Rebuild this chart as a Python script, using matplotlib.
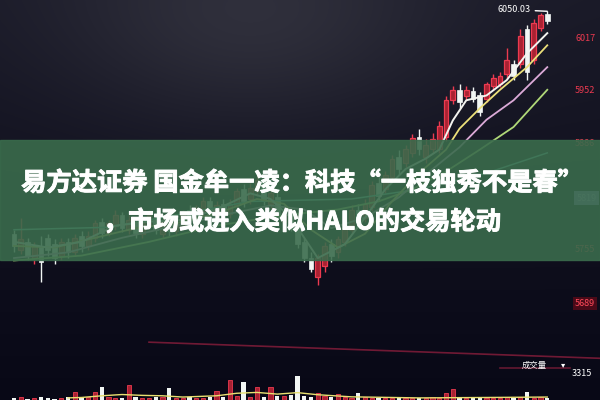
import numpy as np
import matplotlib.pyplot as plt
import matplotlib.patheffects as pe
from matplotlib.patches import Rectangle

plt.rcParams['font.family'] = ['Noto Sans CJK SC', 'DejaVu Sans']

# --- K-line data, left to right ---
opens = [5775, 5755, 5765, 5745, 5760, 5770, 5762, 5748, 5765, 5752,
         5772, 5760, 5770, 5790, 5776, 5785, 5798, 5780, 5790, 5775,
         5785, 5795, 5775, 5790, 5778, 5785, 5805, 5795, 5802, 5815,
         5798, 5812, 5800, 5810, 5830, 5818, 5828, 5840, 5812, 5820,
         5790, 5800, 5785, 5765, 5745, 5722, 5735, 5762, 5752, 5765,
         5780, 5805, 5795, 5808, 5838, 5830, 5845, 5870, 5862, 5875,
         5895, 5870, 5880, 5880, 5895, 5940, 5953, 5945, 5952, 5946,
         5942, 5958, 5960, 5972, 5985, 5985, 6028, 5990, 6030, 6047]
closes = [5760, 5768, 5748, 5760, 5740, 5755, 5745, 5765, 5752, 5770,
          5760, 5772, 5788, 5776, 5788, 5798, 5782, 5792, 5776, 5788,
          5798, 5780, 5790, 5778, 5788, 5800, 5792, 5805, 5815, 5800,
          5810, 5800, 5812, 5828, 5815, 5832, 5842, 5815, 5825, 5795,
          5802, 5782, 5762, 5745, 5732, 5745, 5760, 5748, 5768, 5782,
          5805, 5790, 5812, 5835, 5822, 5848, 5868, 5855, 5880, 5893,
          5880, 5885, 5892, 5908, 5940, 5953, 5938, 5953, 5942, 5926,
          5960, 5968, 5970, 5990, 5970, 6020, 5975, 6035, 6045, 6038]
highs = [5780, 5795, 5770, 5765, 5772, 5775, 5768, 5770, 5770, 5775,
         5778, 5778, 5792, 5795, 5792, 5805, 5802, 5798, 5795, 5792,
         5805, 5800, 5796, 5795, 5792, 5805, 5810, 5810, 5820, 5820,
         5815, 5818, 5818, 5832, 5836, 5838, 5850, 5845, 5832, 5825,
         5810, 5805, 5790, 5770, 5752, 5750, 5765, 5768, 5772, 5788,
         5810, 5812, 5818, 5840, 5845, 5852, 5872, 5878, 5885, 5898,
         5905, 5892, 5900, 5915, 5945, 5958, 5960, 5958, 5957, 5950,
         5963, 5972, 5975, 6005, 5990, 6028, 6033, 6040, 6048, 6050.03]
lows = [5752, 5750, 5742, 5738, 5715, 5748, 5738, 5742, 5745, 5748,
        5752, 5755, 5765, 5770, 5772, 5780, 5777, 5775, 5770, 5770,
        5780, 5775, 5770, 5772, 5772, 5780, 5788, 5790, 5797, 5795,
        5792, 5794, 5795, 5805, 5808, 5812, 5822, 5810, 5806, 5790,
        5785, 5778, 5758, 5740, 5728, 5712, 5728, 5740, 5745, 5760,
        5775, 5783, 5790, 5803, 5815, 5825, 5840, 5848, 5857, 5870,
        5872, 5862, 5875, 5875, 5890, 5935, 5930, 5940, 5938, 5920,
        5938, 5953, 5956, 5966, 5965, 5980, 5965, 5985, 6026, 6034]
volumes = [1580, 1620, 1560, 1600, 1650, 1590, 1570, 1610, 1640, 1880,
           1600, 1620, 1880, 2120, 1630, 1600, 1590, 2210, 1650, 1610,
           1580, 1640, 1620, 2070, 1600, 1590, 1620, 1580, 1610, 1660,
           1950, 1620, 2450, 1700, 2350, 1650, 2100, 1640, 2100, 1700,
           1680, 1720, 2640, 1700, 1650, 1850, 1690, 1620, 1780, 1640,
           1600, 1850, 1620, 1590, 1610, 1580, 1600, 1620, 1590, 1610,
           1580, 1600, 1620, 1590, 1830, 2000, 1610, 1580, 1600, 1620,
           1590, 1610, 1580, 1620, 1600, 1630, 1900, 1610, 1620, 1600]

# moving average lines, read at sample points (candle index, price)
ma5_i = [0, 5, 10, 15, 20, 25, 30, 35, 38, 41, 45, 49, 52, 55, 58, 61, 63, 65, 67, 70, 73, 76, 79]
ma5_p = [5765, 5758, 5765, 5785, 5790, 5792, 5805, 5825, 5818, 5795, 5745, 5762, 5795, 5830,
         5855, 5868, 5879, 5915, 5940, 5946, 5965, 5998, 6023]
ma10_i = [0, 6, 12, 18, 24, 30, 36, 40, 44, 48, 52, 56, 60, 64, 66, 69, 72, 76, 79]
ma10_p = [5760, 5758, 5770, 5782, 5788, 5800, 5818, 5812, 5780, 5758, 5775, 5815, 5850,
          5879, 5905, 5930, 5953, 5981, 6008]
ma20_i = [0, 8, 16, 24, 32, 38, 43, 47, 52, 57, 62, 66, 70, 74, 79]
ma20_p = [5745, 5752, 5770, 5785, 5800, 5810, 5805, 5782, 5795, 5820, 5855, 5882, 5916, 5940, 5981]
ma60_i = [0, 10, 20, 30, 40, 48, 54, 59, 64, 69, 74, 79]
ma60_p = [5742, 5748, 5765, 5785, 5798, 5805, 5815, 5830, 5852, 5879, 5907, 5953]
ma120_i = [0, 14, 35, 50, 60, 70, 79]
ma120_p = [5780, 5783, 5815, 5818, 5830, 5850, 5875]

vol_ma_i = [8, 10, 13, 16, 19, 22, 25, 30, 33, 36, 39, 42, 45, 50, 60, 70, 79]
vol_ma_v = [1600, 1620, 1700, 1760, 1720, 1700, 1640, 1700, 1820, 1860, 1780, 1850, 1750,
            1650, 1600, 1620, 1640]

price_ticks = [6017, 5952, 5886, 5819, 5755, 5689]
high_label = 6050.03
vol_label = 3315

# faint red guide lines near the volume panel
guide1_i = [20, 87]
guide1_p = [5641, 5621]
guide2_i = [72, 82.4]
guide2_p = [5609, 5609]

RED = '#ec3a50'
RED_FACE = '#a82232'
WHITE = '#f2f6f4'

fig = plt.figure(figsize=(6, 4), dpi=100)

# background glow
bg = fig.add_axes([0, 0, 1, 1])
yy, xx = np.mgrid[0:400, 0:600]
top = np.array([26, 26, 40]) / 255
bot = np.array([8, 8, 22]) / 255
t = (yy / 400.0)[..., None]
img = top * (1 - t) + bot * t
glow = np.exp(-(((xx - 250) / 190.0) ** 2 + ((yy - 20) / 110.0) ** 2))[..., None]
img = np.clip(img + glow * np.array([22, 22, 20]) / 255, 0, 1)
bg.imshow(img, aspect='auto', extent=[0, 1, 0, 1])
bg.axis('off')

ax = fig.add_axes([0, 0, 1, 1])
ax.patch.set_alpha(0)
ax.set_xlim(-2.074, 86.81)
ax.set_ylim(5569.5, 6064.0)
ax.axis('off')

o = np.array(opens, float)
c = np.array(closes, float)
h = np.array(highs, float)
l = np.array(lows, float)
idx = np.arange(len(o))
up = c >= o
lo = np.minimum(o, c)
hgt = np.maximum(np.abs(c - o), 1.5)

ax.vlines(idx[up], l[up], h[up], color=RED, lw=1.0, zorder=2)
ax.bar(idx[up], hgt[up], bottom=lo[up], width=0.7, color=RED_FACE,
       edgecolor=RED, lw=0.9, zorder=3)
ax.vlines(idx[~up], l[~up], h[~up], color=WHITE, lw=1.0, zorder=2)
ax.bar(idx[~up], hgt[~up], bottom=lo[~up], width=0.7, color=WHITE,
       edgecolor=WHITE, lw=0.5, zorder=3)

ax.plot(ma120_i, ma120_p, color='#78d8c4', lw=1.1, zorder=4)
ax.plot(ma60_i, ma60_p, color='#b0d878', lw=1.3, zorder=4)
ax.plot(ma20_i, ma20_p, color='#dcaad8', lw=1.3, zorder=4)
ax.plot(ma10_i, ma10_p, color='#ece07a', lw=1.3, zorder=4)
ax.plot(ma5_i, ma5_p, color='#f4f4f0', lw=1.4, zorder=4)

ax.plot(guide1_i, guide1_p, color='#8a1e3c', lw=1.2, alpha=0.8)
ax.plot(guide2_i, guide2_p, color='#8a1e3c', lw=1.2, alpha=0.7)

# price scale on the right
for p in price_ticks:
    if p == 5819:
        ax.text(86.3, p, str(p), ha='right', va='center', fontsize=6.5, color='#c8b8f0',
                bbox=dict(boxstyle='square,pad=0.25', fc='#8a78c8', ec='none'))
    elif p == 5689:
        ax.text(86.1, p, str(p), ha='right', va='center', fontsize=6.5, color='#ff4a5a',
                bbox=dict(boxstyle='square,pad=0.2', fc='#4a0a18', ec='none'))
    else:
        ax.text(86.1, p, str(p), ha='right', va='center', fontsize=6.5, color=RED)

ax.annotate(f'{high_label:.2f}', xy=(79, high_label), xytext=(76.6, high_label + 2),
            ha='right', va='center', fontsize=6.5, color='white',
            arrowprops=dict(arrowstyle='-', color='white', lw=1.0, shrinkA=1, shrinkB=0))

# volume panel
vax = fig.add_axes([0, 0, 1, 0.1])
vax.patch.set_alpha(0)
vax.set_xlim(-2.074, 86.81)
vax.set_ylim(1500, 3400)
vax.axis('off')
v = np.array(volumes, float)
vax.bar(idx[up], v[up], width=0.62, color=RED_FACE, edgecolor=RED, lw=0.6)
vax.bar(idx[~up], v[~up], width=0.62, color=WHITE, lw=0)
vax.plot(vol_ma_i, vol_ma_v, color='#e8e070', lw=1.0)
vax.text(79.0, 3160, '成交量', ha='right', va='center', fontsize=6, color='white')
vax.text(81.3, 3180, '▾', ha='center', va='center', fontsize=6, color='white',
         family=['DejaVu Sans'])
vax.text(85.6, 2735, str(vol_label), ha='right', va='center', fontsize=6.5, color='white')

# green title band
fig.add_artist(Rectangle((0, 0.35), 1, 0.30, transform=fig.transFigure,
                         color='#3a6b4c', alpha=0.9, zorder=5))
stroke = [pe.withStroke(linewidth=0.7, foreground='white')]
fig.text(0.503, 0.5425, '易方达证券 国金牟一凌：科技“一枝独秀不是春”',
         ha='center', va='center', fontsize=18.2, fontweight='bold', color='white',
         zorder=6, path_effects=stroke)
fig.text(0.503, 0.445, '，市场或进入类似HALO的交易轮动',
         ha='center', va='center', fontsize=18.2, fontweight='bold', color='white',
         zorder=6, path_effects=stroke)

fig.savefig('out.png', dpi=100)
